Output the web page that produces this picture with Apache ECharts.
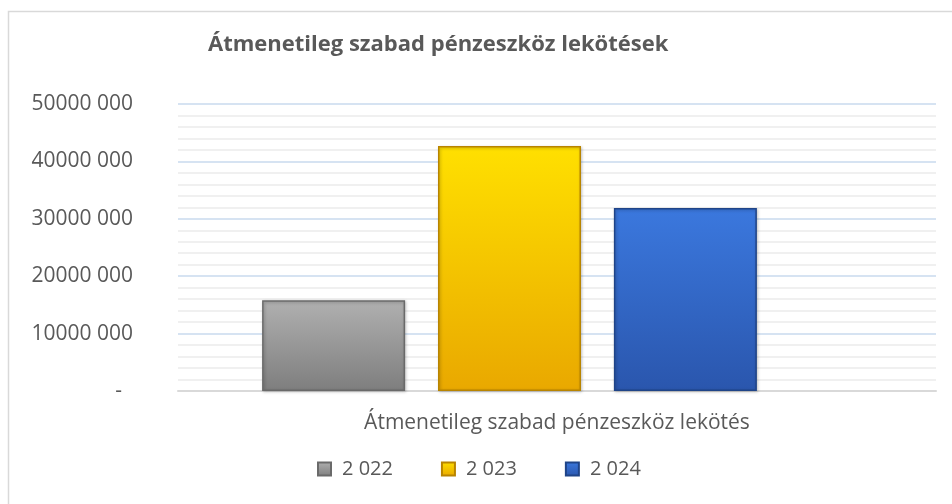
<!DOCTYPE html>
<html>
<head>
<meta charset="utf-8">
<script src="https://cdn.jsdelivr.net/npm/echarts@6/dist/echarts.min.js"></script>
<style>
  html, body { margin: 0; padding: 0; background: #fff; }
  #chart { width: 952px; height: 504px; }
</style>
</head>
<body>
<div id="chart"></div>
<script>
const title = 'Átmenetileg szabad pénzeszköz lekötések'
const categories = ['Átmenetileg szabad pénzeszköz lekötés']
const years = ['2 022', '2 023', '2 024']
const values = [15800000, 42700000, 31900000]

const FONT = '"Open Sans", "Noto Sans", sans-serif'
const TEXT = '#595959'

// top, bottom, border
const fills = [
  ['#b0b0b0', '#7e7e7e', '#6a6a6a'],
  ['#ffe000', '#e9a800', '#b88400'],
  ['#3b78de', '#2a56ad', '#1f4488'],
]

function grad(top, bottom) {
  return new echarts.graphic.LinearGradient(0, 0, 0, 1, [
    { offset: 0, color: top },
    { offset: 1, color: bottom },
  ])
}

function yLabel(v) {
  if (v === 0) return '-\u00a0\u00a0'
  const s = String(v)
  return s.slice(0, -3) + ' ' + s.slice(-3)
}

const chart = echarts.init(document.getElementById('chart'))

chart.setOption({
  animation: false,
  backgroundColor: '#fff',
  graphic: [{
    type: 'rect',
    shape: { x: 8.5, y: 11.5, width: 980, height: 540 },
    style: { fill: 'none', stroke: '#d9d9d9', lineWidth: 1.5 },
    silent: true,
    z: -10,
  }],
  title: {
    text: title,
    left: 203,
    top: 29,
    textStyle: { fontFamily: FONT, fontSize: 22, fontWeight: 'bold', color: TEXT },
  },
  legend: {
    left: 312,
    top: 454,
    itemWidth: 13,
    itemHeight: 13,
    itemGap: 48,
    icon: 'rect',
    textStyle: { fontFamily: FONT, fontSize: 20, color: TEXT, padding: [0, 0, 0, 6] },
    data: years,
  },
  grid: [
    { left: 178, right: 16, top: 104, bottom: 113 },
    { left: 178, width: 663, top: 104, bottom: 113 },
  ],
  xAxis: [
    {
      type: 'category',
      gridIndex: 0,
      data: categories,
      axisTick: { show: false },
      axisLine: { lineStyle: { color: '#d9d9d9', width: 2 } },
      axisLabel: { margin: 22, fontFamily: FONT, fontSize: 21, color: TEXT },
    },
    {
      type: 'category',
      gridIndex: 1,
      data: categories,
      show: false,
    },
  ],
  yAxis: [
    {
      type: 'value',
      gridIndex: 0,
      min: 0,
      max: 50000000,
      interval: 10000000,
      axisLine: { show: false },
      axisTick: { show: false },
      axisLabel: {
        margin: 45,
        fontFamily: FONT,
        fontSize: 21,
        color: TEXT,
        formatter: yLabel,
      },
      splitLine: { lineStyle: { color: '#c8daee', width: 1.5 } },
      minorTick: { show: false, splitNumber: 5 },
      minorSplitLine: { show: true, lineStyle: { color: '#ebebeb', width: 1.5 } },
    },
    {
      type: 'value',
      gridIndex: 1,
      min: 0,
      max: 50000000,
      show: false,
    },
  ],
  series: years.map((y, i) => ({
    name: y,
    type: 'bar',
    xAxisIndex: 1,
    yAxisIndex: 1,
    barWidth: 143,
    barGap: '23%',
    data: [values[i]],
    itemStyle: {
      color: grad(fills[i][0], fills[i][1]),
      borderColor: fills[i][2],
      borderWidth: 1.5,
      shadowColor: 'rgba(0,0,0,0.25)',
      shadowBlur: 3,
      shadowOffsetX: 1,
      shadowOffsetY: 1,
    },
  })),
})
</script>
</body>
</html>
